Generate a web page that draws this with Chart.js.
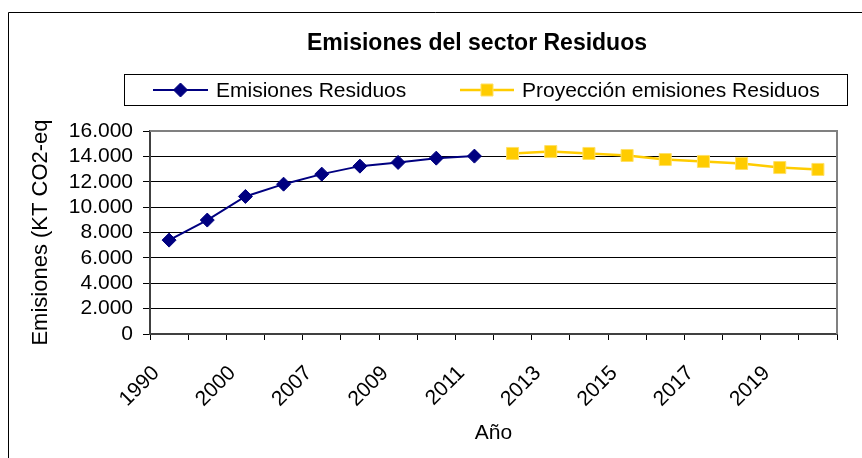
<!DOCTYPE html>
<html><head><meta charset="utf-8">
<script src="https://cdn.jsdelivr.net/npm/chart.js@4/dist/chart.umd.min.js"></script>
<style>html,body{margin:0;padding:0;background:#fff;overflow:hidden}#wrap{position:relative;width:862px;height:458px}</style>
</head><body><div id="wrap"><canvas id="c" width="862" height="458"></canvas></div>
<script>
const categories = ['1990','1995','2000','2005','2007','2008','2009','2010','2011','2012','2013','2014','2015','2016','2017','2018','2019','2020'];
const emisiones = [7400, 8980, 10840, 11810, 12600, 13230, 13520, 13860, 14020, null, null, null, null, null, null, null, null, null];
const proyeccion = [null, null, null, null, null, null, null, null, null, 14230, 14380, 14230, 14070, 13750, 13600, 13440, 13120, 12970];
const yTicks = [0, 2000, 4000, 6000, 8000, 10000, 12000, 14000, 16000];
const seriesNames = ['Emisiones Residuos', 'Proyección emisiones Residuos'];
const chartTitle = 'Emisiones del sector Residuos';
const yTitle = 'Emisiones (KT CO2-eq';
const xTitle = 'Año';

const FONT = '"Liberation Sans", Arial, sans-serif';
const fmt = v => String(v).replace(/\B(?=(\d{3})+(?!\d))/g, '.');

const deco = {
  id: 'deco',
  beforeDraw(chart) {
    const ctx = chart.ctx;
    ctx.save();
    ctx.fillStyle = '#fff';
    ctx.fillRect(0, 0, chart.width, chart.height);
    ctx.strokeStyle = '#000';
    ctx.lineWidth = 1;
    ctx.beginPath();
    ctx.moveTo(8.5, 458); ctx.lineTo(8.5, 12.5); ctx.lineTo(862, 12.5);
    ctx.stroke();
    ctx.restore();
  },
  beforeDatasetsDraw(chart) {
    const ctx = chart.ctx;
    const a = chart.chartArea;
    ctx.save();
    ctx.strokeStyle = '#808080';
    ctx.lineWidth = 2;
    ctx.beginPath();
    ctx.moveTo(a.left, a.top); ctx.lineTo(a.right, a.top); ctx.lineTo(a.right, a.bottom);
    ctx.stroke();
    ctx.restore();
  },
  afterDraw(chart) {
    const ctx = chart.ctx;
    ctx.save();
    // title
    ctx.fillStyle = '#000';
    ctx.font = 'bold 23px ' + FONT;
    ctx.textAlign = 'center';
    ctx.textBaseline = 'middle';
    ctx.fillText(chartTitle, 477, 44);
    // legend
    ctx.strokeStyle = '#000';
    ctx.lineWidth = 1;
    ctx.strokeRect(124.5, 74.5, 723, 31);
    const items = [
      {x0: 153, x1: 208, text: 216},
      {x0: 460, x1: 514, text: 522}
    ];
    const y = 90;
    chart.data.datasets.forEach((ds, i) => {
      const it = items[i];
      ctx.strokeStyle = ds.borderColor;
      ctx.lineWidth = ds.borderWidth;
      ctx.beginPath(); ctx.moveTo(it.x0, y); ctx.lineTo(it.x1, y); ctx.stroke();
      ctx.fillStyle = ds.pointBackgroundColor;
      ctx.strokeStyle = ds.pointBorderColor;
      ctx.lineWidth = 1;
      Chart.helpers.drawPoint(ctx, {pointStyle: ds.pointStyle, radius: ds.pointRadius, rotation: 0, borderWidth: 1}, (it.x0 + it.x1) / 2, y);
      ctx.fillStyle = '#000';
      ctx.font = '21px ' + FONT;
      ctx.textBaseline = 'middle';
      ctx.textAlign = 'left';
      ctx.fillText(ds.label, it.text, y + 1);
    });
    ctx.restore();
  }
};

new Chart(document.getElementById('c'), {
  type: 'line',
  data: {
    labels: categories,
    datasets: [
      {label: seriesNames[0], data: emisiones, borderColor: '#000080', backgroundColor: '#000080', borderWidth: 2,
       pointStyle: 'rectRot', pointRadius: 7, pointHoverRadius: 7, pointBackgroundColor: '#000080', pointBorderColor: '#000080', pointBorderWidth: 1, spanGaps: false, tension: 0},
      {label: seriesNames[1], data: proyeccion, borderColor: '#FFCC00', backgroundColor: '#FFCC00', borderWidth: 2.5,
       pointStyle: 'rect', pointRadius: 8.5, pointHoverRadius: 8.5, pointBackgroundColor: '#FFCC00', pointBorderColor: '#FFE066', pointBorderWidth: 1, spanGaps: false, tension: 0}
    ]
  },
  options: {
    responsive: false,
    animation: false,
    devicePixelRatio: 1,
    layout: {padding: {left: 8, right: 25, top: 131, bottom: 0}},
    plugins: {
      legend: {display: false},
      tooltip: {enabled: false},
      title: {display: false}
    },
    scales: {
      x: {
        offset: true,
        grid: {offset: true, drawOnChartArea: false, drawTicks: true, tickLength: 6, color: '#000', lineWidth: 1},
        border: {display: true, color: '#404040', width: 2},
        ticks: {autoSkip: false, maxRotation: 45, minRotation: 45, color: '#000', font: {family: FONT, size: 21}, padding: 21, labelOffset: -13,
          callback: (v, i) => (i % 2 === 0 ? categories[i] : '')},
        title: {display: true, text: xTitle, color: '#000', font: {family: FONT, size: 21}, padding: {top: 0, bottom: 12}},
        afterFit: s => { s.height = 124; }
      },
      y: {
        min: 0, max: 16000,
        afterBuildTicks: s => { s.ticks = yTicks.map(v => ({value: v})); },
        grid: {color: '#000', lineWidth: 1, drawTicks: true, tickLength: 7},
        border: {display: true, color: '#404040', width: 2},
        ticks: {autoSkip: false, color: '#000', font: {family: FONT, size: 21}, padding: 10, callback: v => fmt(v)},
        title: {display: true, text: yTitle, color: '#000', font: {family: FONT, size: 22}, padding: {top: 20, bottom: 0}},
        afterFit: s => { s.width = 142; }
      }
    }
  },
  plugins: [deco]
});
</script></body></html>
